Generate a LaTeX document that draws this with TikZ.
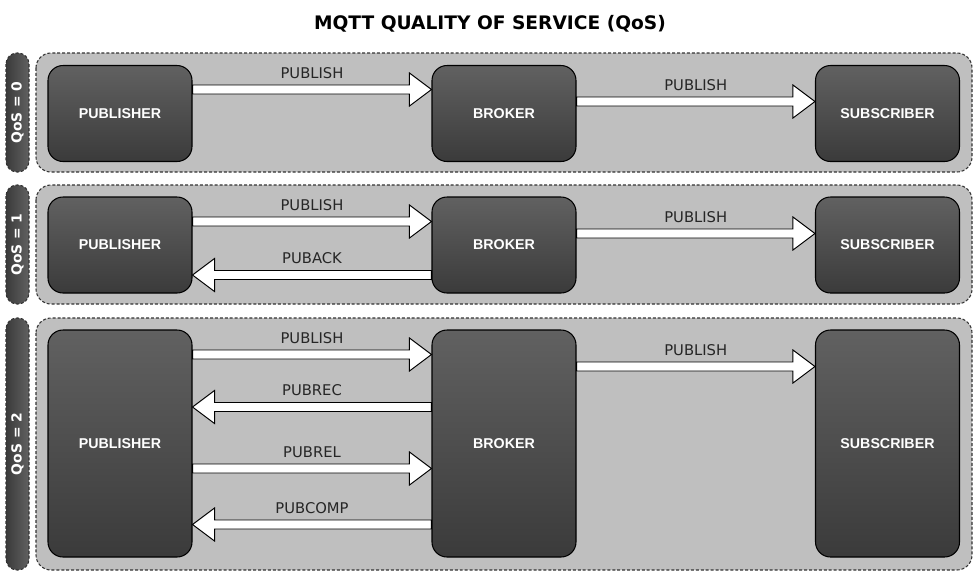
\documentclass[tikz,border=0pt]{standalone}
\usepackage{fontspec}
\usepackage{tikz}
\usetikzlibrary{calc,positioning}
\newfontfamily\lblfont{DejaVu Sans}
\newfontfamily\boxfont{Liberation Sans}
\colorlet{lanefill}{black!25}
\tikzset{
  lane/.style={draw=black!80,fill=lanefill,rounded corners=15*0.02cm,line width=.6pt,dash pattern=on 1.7pt off 1.1pt},
  tag/.style={draw=black!80,left color=black!77,right color=black!62,rounded corners=11*0.02cm,line width=.6pt,
    dash pattern=on 1.7pt off 1.1pt,minimum height=23*0.02cm,inner sep=0pt,rotate=90,text=white,
    font=\lblfont\bfseries\fontsize{7.9}{9}\selectfont},
  ent/.style={draw=black,top color=black!62,bottom color=black!77,rounded corners=15*0.02cm,line width=.6pt,
    minimum width=144*0.02cm,inner sep=0pt,text=white,font=\boxfont\bfseries\fontsize{8.1}{9}\selectfont},
  fat/.style={draw=black,fill=white,line width=.55pt,line join=miter},
  lb/.style={font=\lblfont\fontsize{8.4}{10}\selectfont,text=black!85,inner sep=0pt},
  ttl/.style={font=\lblfont\bfseries\fontsize{10.6}{12}\selectfont,inner sep=0pt},
}
% fat white arrow from #1 to #2 at height #3, label #4 above it
\newcommand{\qosmsg}[4]{%
  \coordinate (ms) at (#1 |- 0,#3);
  \coordinate (me) at (#2 |- 0,#3);
  \coordinate (mh) at ($(me)!0.44cm!(ms)$);
  \draw[fat] ($(ms)!0.09cm!90:(me)$) -- ($(mh)!0.09cm!90:(me)$) -- ($(mh)!0.33cm!90:(me)$) -- (me)
    -- ($(mh)!0.33cm!-90:(me)$) -- ($(mh)!0.09cm!-90:(me)$) -- ($(ms)!0.09cm!-90:(me)$) -- cycle;
  \node[lb,anchor=base] at ($(ms)!0.5!(me)+(0,-11.5)$) {#4};
}

\begin{document}
\begin{tikzpicture}[x=0.02cm,y=-0.02cm]
\useasboundingbox (0,0) rectangle (978,576);
\node[ttl,anchor=base] (title) at (490,29) {MQTT QUALITY OF SERVICE (QoS)};
% ---- QoS = 0
\draw[lane] (36,53) rectangle (972,172);
\node[tag,minimum width=119*0.02cm] (tagA) at (17.5,112.5) {QoS = 0};
\node[ent,minimum height=96*0.02cm] (pubA) at (120,113.5) {PUBLISHER};
\node[ent,minimum height=96*0.02cm] (brkA) at (504,113.5) {BROKER};
\node[ent,minimum height=96*0.02cm] (subA) at (887.5,113.5) {SUBSCRIBER};
\qosmsg{pubA.east}{brkA.west}{89.5}{PUBLISH}
\qosmsg{brkA.east}{subA.west}{101.5}{PUBLISH}
% ---- QoS = 1
\draw[lane] (36,185) rectangle (972,304);
\node[tag,minimum width=119*0.02cm] (tagB) at (17.5,244.5) {QoS = 1};
\node[ent,minimum height=96*0.02cm] (pubB) at (120,245) {PUBLISHER};
\node[ent,minimum height=96*0.02cm] (brkB) at (504,245) {BROKER};
\node[ent,minimum height=96*0.02cm] (subB) at (887.5,245) {SUBSCRIBER};
\qosmsg{pubB.east}{brkB.west}{221.5}{PUBLISH}
\qosmsg{brkB.west}{pubB.east}{275}{PUBACK}
\qosmsg{brkB.east}{subB.west}{233.5}{PUBLISH}
% ---- QoS = 2
\draw[lane] (36,318) rectangle (972,570);
\node[tag,minimum width=252*0.02cm] (tagC) at (17.5,444) {QoS = 2};
\node[ent,minimum height=227*0.02cm] (pubC) at (120,443.5) {PUBLISHER};
\node[ent,minimum height=227*0.02cm] (brkC) at (504,443.5) {BROKER};
\node[ent,minimum height=227*0.02cm] (subC) at (887.5,443.5) {SUBSCRIBER};
\qosmsg{pubC.east}{brkC.west}{354.5}{PUBLISH}
\qosmsg{brkC.west}{pubC.east}{407}{PUBREC}
\qosmsg{pubC.east}{brkC.west}{468.5}{PUBREL}
\qosmsg{brkC.west}{pubC.east}{524.5}{PUBCOMP}
\qosmsg{brkC.east}{subC.west}{366.5}{PUBLISH}
\end{tikzpicture}
\end{document}
